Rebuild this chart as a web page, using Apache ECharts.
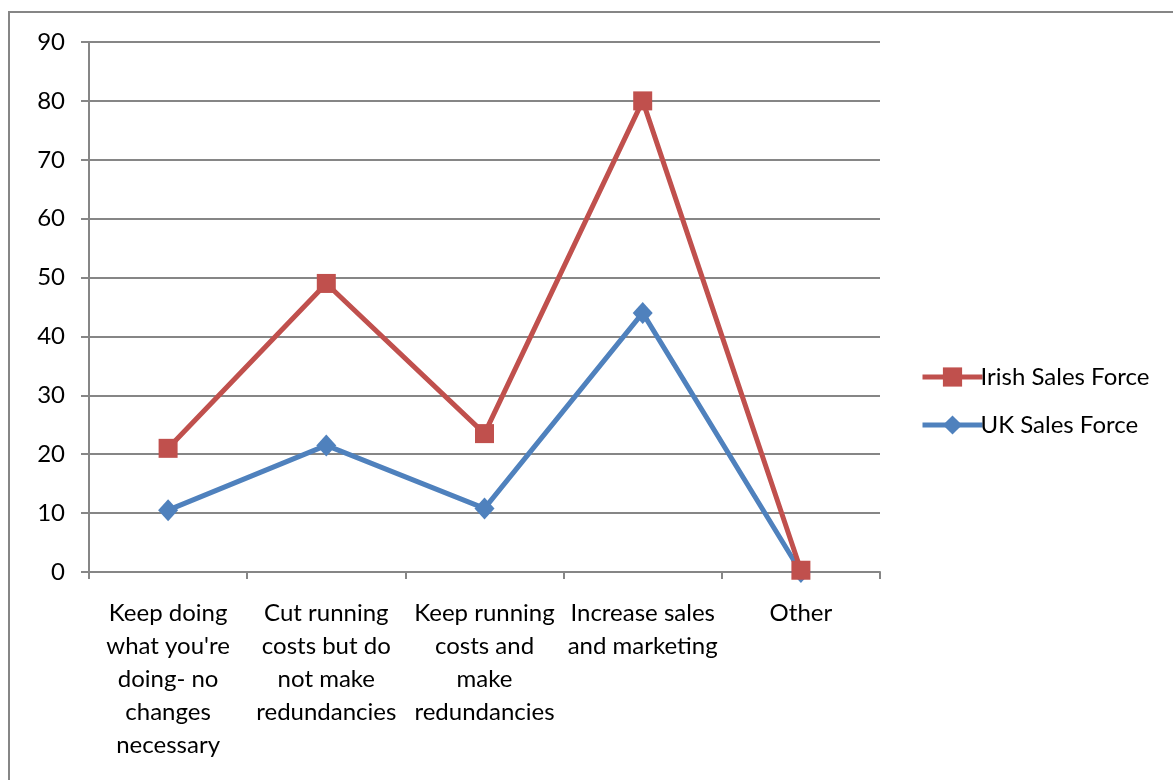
<!DOCTYPE html>
<html>
<head>
<meta charset="utf-8">
<script src="https://cdn.jsdelivr.net/npm/echarts@6/dist/echarts.min.js"></script>
<style>
  html, body { margin: 0; padding: 0; background: #ffffff; }
  #chart { width: 1173px; height: 780px; }
</style>
</head>
<body>
<div id="chart"></div>
<script>
// Survey responses: preferred strategy by sales force
const categories = [
  "Keep doing\nwhat you're\ndoing- no\nchanges\nnecessary",
  "Cut running\ncosts but do\nnot make\nredundancies",
  "Keep running\ncosts and\nmake\nredundancies",
  "Increase sales\nand marketing",
  "Other"
];
const irishSalesForce = [21, 49, 23.5, 80, 0.3];
const ukSalesForce = [10.5, 21.5, 10.8, 44, 0];
const yTicks = { min: 0, max: 90, interval: 10 };

const FONT = "Lato, 'Open Sans', sans-serif";
const GREY = '#868686';
const RED = '#C0504D';
const BLUE = '#4F81BD';

const chart = echarts.init(document.getElementById('chart'), null, { renderer: 'canvas' });

chart.setOption({
  animation: false,
  backgroundColor: '#ffffff',
  textStyle: { fontFamily: FONT },
  graphic: [{
    type: 'rect',
    shape: { x: 9, y: 12, width: 1180, height: 790 },
    style: { fill: 'none', stroke: GREY, lineWidth: 2 },
    silent: true,
    z: -1
  }],
  grid: { left: 89, right: 293, top: 42, bottom: 208, containLabel: false },
  legend: {
    orient: 'vertical',
    left: 915,
    top: 360,
    itemWidth: 60,
    itemHeight: 24,
    itemGap: 24,
    lineStyle: { width: 5 },
    textStyle: { fontFamily: FONT, fontSize: 24, color: '#000000', padding: [0, 0, 0, -7] },
    data: ['Irish Sales Force', 'UK Sales Force']
  },
  xAxis: {
    type: 'category',
    data: categories,
    boundaryGap: true,
    axisLine: { lineStyle: { color: GREY, width: 2 } },
    axisTick: { show: true, length: 7, alignWithLabel: false, lineStyle: { color: GREY, width: 2 } },
    axisLabel: {
      interval: 0,
      margin: 25,
      color: '#000000',
      fontFamily: FONT,
      fontSize: 24,
      lineHeight: 33,
      align: 'center'
    }
  },
  yAxis: {
    type: 'value',
    min: yTicks.min,
    max: yTicks.max,
    interval: yTicks.interval,
    axisLine: { show: true, lineStyle: { color: GREY, width: 2 } },
    axisTick: { show: true, length: 8, lineStyle: { color: GREY, width: 2 } },
    axisLabel: { margin: 24, color: '#000000', fontFamily: FONT, fontSize: 24 },
    splitLine: { show: true, lineStyle: { color: GREY, width: 2 } }
  },
  series: [
    {
      name: 'Irish Sales Force',
      type: 'line',
      data: irishSalesForce,
      symbol: 'rect',
      symbolSize: 19,
      itemStyle: { color: RED },
      lineStyle: { color: RED, width: 5 },
      z: 3
    },
    {
      name: 'UK Sales Force',
      type: 'line',
      data: ukSalesForce,
      symbol: 'diamond',
      symbolSize: [20, 22],
      itemStyle: { color: BLUE },
      lineStyle: { color: BLUE, width: 5 },
      z: 2
    }
  ]
});
</script>
</body>
</html>
